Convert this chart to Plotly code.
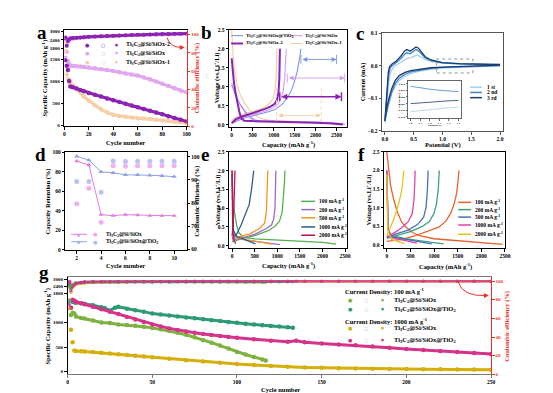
import plotly.graph_objects as go

W, H = 553, 393
FONT = "Liberation Serif"
RED = "#E8322B"

# ---------------- Panel a : cycling of three samples ----------------
A_CYC = [1, 2, 3, 4, 5, 7, 10, 13, 16, 20, 25, 30, 35, 40, 45, 50, 55, 60, 65, 70, 75, 80, 85, 90, 95, 100]
A_CAP_S2 = [2550, 1350, 1250, 1000, 880, 860, 830, 800, 770, 730, 690, 650, 605, 565, 525, 485, 445, 410, 370, 330, 290, 250, 205, 165, 125, 85]
A_CAP_S = [2450, 1700, 1450, 1380, 1350, 1340, 1335, 1330, 1320, 1310, 1290, 1270, 1250, 1230, 1200, 1175, 1150, 1125, 1080, 1040, 990, 940, 890, 840, 790, 740]
A_CAP_S1 = [2350, 1150, 1050, 980, 940, 900, 820, 740, 650, 560, 450, 360, 290, 240, 210, 190, 175, 160, 150, 140, 125, 110, 95, 80, 65, 50]
A_CE_S2 = [72, 88, 93, 95, 96, 96.3, 96.7, 97, 97.3, 97.7, 98, 98.3, 98.6, 98.9, 99.2, 99.4, 99.6, 99.8, 100, 100.2, 100.4, 100.6, 100.8, 101, 101.1, 101.2]
A_CE_S = [75, 88, 92, 94, 95, 95.5, 96, 96.4, 96.8, 97.2, 97.6, 98, 98.3, 98.6, 98.9, 99.2, 99.4, 99.6, 99.8, 100, 100.2, 100.3, 100.4, 100.5, 100.6, 100.7]
A_CE_S1 = [82, 90, 93, 94.5, 95.5, 96, 96.5, 97, 97.3, 97.6, 97.9, 98.2, 98.5, 98.8, 99, 99.2, 99.4, 99.6, 99.8, 100, 100.1, 100.2, 100.3, 100.4, 100.5, 100.6]
A_TICKS = [0, 500, 1000, 1500, 1800, 2400, 3000]
A_LABELS = ["Ti<sub>3</sub>C<sub>2</sub>@Si/SiOx-2", "Ti<sub>3</sub>C<sub>2</sub>@Si/SiOx", "Ti<sub>3</sub>C<sub>2</sub>@Si/SiOx-1"]

# ---------------- Panel b : charge/discharge profiles ----------------
B_T_DIS_Q = [0, 50, 100, 180, 250, 330, 400, 480, 550, 700, 1000, 1500, 2000, 2350, 2500]
B_T_DIS_V = [1.05, 0.9, 0.75, 0.58, 0.45, 0.34, 0.25, 0.18, 0.13, 0.1, 0.09, 0.08, 0.07, 0.05, 0.02]
B_T_CHG_Q = [0, 150, 300, 500, 700, 900, 1050, 1200, 1330, 1420, 1500, 1560, 1610, 1650]
B_T_CHG_V = [0.04, 0.12, 0.18, 0.24, 0.29, 0.35, 0.42, 0.54, 0.72, 0.9, 1.15, 1.4, 1.7, 2.0]
B_S_DIS_Q = [0, 60, 130, 200, 280, 360, 450, 600, 900, 1400, 1900, 2400, 2700]
B_S_DIS_V = [1.1, 0.9, 0.7, 0.52, 0.37, 0.25, 0.16, 0.11, 0.1, 0.09, 0.08, 0.06, 0.02]
B_S_CHG_Q = [0, 200, 400, 650, 850, 1000, 1100, 1180, 1230, 1260, 1280, 1300]
B_S_CHG_V = [0.05, 0.17, 0.24, 0.31, 0.38, 0.46, 0.56, 0.7, 0.9, 1.2, 1.55, 2.0]
B_S2_DIS_Q = [0, 20, 50, 90, 140, 190, 240, 300, 500, 1000, 1500, 2000, 2400, 2650]
B_S2_DIS_V = [1.75, 1.45, 1.15, 0.85, 0.55, 0.3, 0.16, 0.11, 0.1, 0.09, 0.08, 0.06, 0.04, 0.01]
B_S2_CHG_Q = [0, 100, 250, 450, 650, 800, 920, 1020, 1080, 1115, 1135, 1145, 1150]
B_S2_CHG_V = [0.05, 0.15, 0.22, 0.29, 0.36, 0.42, 0.48, 0.55, 0.65, 0.85, 1.2, 1.6, 2.0]
B_S1_DIS_Q = [0, 15, 40, 80, 130, 200, 300, 420, 560, 700, 900, 1300, 1700, 2150]
B_S1_DIS_V = [2.5, 2.1, 1.7, 1.35, 1.05, 0.8, 0.58, 0.4, 0.26, 0.17, 0.12, 0.1, 0.09, 0.07]
B_S1_CHG_Q = [0, 100, 250, 450, 650, 800, 900, 980, 1030, 1055, 1070, 1080]
B_S1_CHG_V = [0.12, 0.2, 0.27, 0.33, 0.4, 0.48, 0.56, 0.68, 0.9, 1.2, 1.6, 2.0]
B_ARROW_Y = [1.72, 1.23, 0.74, 0.25]
B_ARROW_X0 = [1650, 1324, 1146, 1068]
B_ARROW_X1 = [2500, 2694, 2616, 2136]
B_LABELS = ["Ti<sub>3</sub>C<sub>2</sub>@Si/SiOx@TiO<sub>2</sub>", "Ti<sub>3</sub>C<sub>2</sub>@Si/SiOx",
            "Ti<sub>3</sub>C<sub>2</sub>@Si/SiOx-2", "Ti<sub>3</sub>C<sub>2</sub>@Si/SiOx-1"]

# ---------------- Panel c : CV curves ----------------
C_1_V = [2.0, 1.5, 1.0, 0.8, 0.6, 0.45, 0.35, 0.25, 0.18, 0.12, 0.07, 0.03, 0.0, 0.02, 0.04, 0.07, 0.1, 0.15, 0.22, 0.3, 0.38, 0.45, 0.52, 0.56, 0.62, 0.7, 0.8, 1.0, 1.3, 1.6, 2.0]
C_1_I = [0.0, -0.003, -0.007, -0.011, -0.016, -0.024, -0.032, -0.045, -0.062, -0.085, -0.115, -0.145, -0.175, -0.14, -0.1, -0.05, -0.02, -0.003, 0.005, 0.013, 0.022, 0.025, 0.03, 0.033, 0.028, 0.02, 0.014, 0.008, 0.005, 0.003, 0.002]
C_2_V = [2.0, 1.5, 1.0, 0.8, 0.6, 0.45, 0.35, 0.25, 0.18, 0.12, 0.07, 0.03, 0.0, 0.02, 0.04, 0.06, 0.09, 0.12, 0.2, 0.28, 0.34, 0.38, 0.44, 0.5, 0.54, 0.58, 0.64, 0.7, 0.8, 1.0, 1.3, 1.6, 2.0]
C_2_I = [0.001, -0.001, -0.005, -0.008, -0.013, -0.019, -0.026, -0.038, -0.055, -0.08, -0.11, -0.14, -0.17, -0.13, -0.08, -0.035, -0.008, 0.0, 0.01, 0.022, 0.035, 0.04, 0.037, 0.045, 0.05, 0.047, 0.035, 0.025, 0.016, 0.009, 0.006, 0.004, 0.003]
C_3_V = [2.0, 1.5, 1.0, 0.8, 0.6, 0.45, 0.35, 0.25, 0.18, 0.12, 0.07, 0.03, 0.0, 0.02, 0.04, 0.06, 0.08, 0.12, 0.2, 0.28, 0.34, 0.38, 0.44, 0.5, 0.54, 0.58, 0.64, 0.7, 0.8, 1.0, 1.3, 1.6, 2.0]
C_3_I = [0.002, 0.0, -0.004, -0.006, -0.01, -0.015, -0.02, -0.03, -0.045, -0.07, -0.1, -0.13, -0.17, -0.12, -0.06, -0.02, -0.003, 0.005, 0.015, 0.03, 0.045, 0.05, 0.045, 0.053, 0.058, 0.055, 0.04, 0.028, 0.018, 0.01, 0.007, 0.005, 0.004]
C_IN_V = [1.0, 1.1, 1.2, 1.3, 1.4, 1.5]
C_IN_1 = [-0.011, -0.0102, -0.0094, -0.0087, -0.0081, -0.0076]
C_IN_2 = [0.008, 0.0068, 0.0058, 0.005, 0.0044, 0.004]
C_IN_3 = [-0.005, -0.0044, -0.0038, -0.0033, -0.0029, -0.0026]
C_LABELS = ["1 st", "2 nd", "3 rd"]

# ---------------- Panel d : rate retention ----------------
D_CYC = [2, 3, 4, 5, 6, 7, 8, 9, 10]
D_RET_S = [91, 87, 36, 35, 36, 35.5, 35, 35, 35]
D_RET_T = [96, 92, 80, 79, 77, 77, 76.5, 76, 75]
D_CE_S = [79.7, 86.4, 71.7, 96.1, 95.9, 96.1, 96.1, 96.1, 96.1]
D_CE_T = [89.3, 89.3, 84.7, 98.1, 97.9, 98.0, 98.0, 98.0, 98.0]
D_LABELS = ["Ti<sub>3</sub>C<sub>2</sub>@Si/SiOx", "Ti<sub>3</sub>C<sub>2</sub>@Si/SiOx@TiO<sub>2</sub>"]

# ---------------- Panel e : rate profiles Ti3C2@Si/SiOx ----------------
E_100_CHG_Q = [0, 200, 500, 800, 950, 1050, 1110, 1140, 1160, 1170]
E_100_CHG_V = [0.1, 0.18, 0.27, 0.4, 0.52, 0.65, 0.9, 1.3, 1.7, 2.0]
E_100_DIS_Q = [0, 50, 100, 150, 250, 500, 1000, 1500, 2000, 2300]
E_100_DIS_V = [1.3, 0.9, 0.55, 0.35, 0.22, 0.18, 0.15, 0.12, 0.09, 0.04]
E_200_CHG_Q = [0, 200, 500, 750, 870, 920, 950, 960, 970]
E_200_CHG_V = [0.15, 0.2, 0.3, 0.45, 0.55, 0.7, 1.0, 1.5, 2.0]
E_200_DIS_Q = [0, 8, 25, 80, 300, 600, 900, 1060]
E_200_DIS_V = [2.0, 1.0, 0.4, 0.22, 0.15, 0.1, 0.06, 0.03]
E_500_CHG_Q = [0, 200, 400, 600, 720, 760, 780, 790]
E_500_CHG_V = [0.18, 0.25, 0.32, 0.45, 0.6, 0.9, 1.4, 2.0]
E_500_DIS_Q = [0, 10, 30, 100, 300, 600, 870]
E_500_DIS_V = [2.0, 1.0, 0.4, 0.22, 0.16, 0.1, 0.04]
E_1000_CHG_Q = [0, 100, 200, 300, 380, 430, 480]
E_1000_CHG_V = [0.2, 0.3, 0.55, 0.85, 1.1, 1.5, 2.0]
E_1000_DIS_Q = [0, 10, 30, 100, 300, 520]
E_1000_DIS_V = [1.9, 1.0, 0.4, 0.25, 0.15, 0.05]
E_2000_CHG_Q = [0, 20, 40, 55, 65]
E_2000_CHG_V = [0.25, 0.5, 1.0, 1.5, 2.0]
E_2000_DIS_Q = [0, 5, 15, 40, 80]
E_2000_DIS_V = [2.0, 1.0, 0.4, 0.15, 0.05]

# ---------------- Panel f : rate profiles Ti3C2@Si/SiOx@TiO2 ----------------
F_100_CHG_Q = [0, 350, 600, 900, 1100, 1250, 1350, 1420, 1480, 1530]
F_100_CHG_V = [0.1, 0.16, 0.25, 0.38, 0.48, 0.64, 0.85, 1.08, 1.4, 2.0]
F_100_DIS_Q = [0, 40, 80, 150, 220, 320, 426, 550, 700, 1000, 1500, 2000, 2450]
F_100_DIS_V = [2.5, 2.0, 1.6, 1.2, 0.9, 0.6, 0.46, 0.33, 0.25, 0.17, 0.12, 0.08, 0.02]
F_200_CHG_Q = [0, 200, 500, 750, 900, 1000, 1050, 1090, 1110]
F_200_CHG_V = [0.18, 0.26, 0.36, 0.5, 0.63, 0.85, 1.1, 1.5, 2.0]
F_200_DIS_Q = [0, 10, 30, 100, 400, 800, 1200]
F_200_DIS_V = [2.0, 1.0, 0.4, 0.25, 0.17, 0.1, 0.03]
F_500_CHG_Q = [0, 200, 450, 650, 780, 830, 860, 875]
F_500_CHG_V = [0.2, 0.3, 0.4, 0.55, 0.75, 1.0, 1.5, 2.0]
F_500_DIS_Q = [0, 10, 30, 100, 400, 700, 950]
F_500_DIS_V = [2.0, 1.0, 0.4, 0.22, 0.15, 0.09, 0.03]
F_1000_CHG_Q = [0, 150, 300, 450, 540, 575, 590, 600]
F_1000_CHG_V = [0.22, 0.32, 0.45, 0.62, 0.85, 1.2, 1.6, 2.0]
F_1000_DIS_Q = [0, 8, 25, 100, 350, 640]
F_1000_DIS_V = [2.0, 1.0, 0.4, 0.2, 0.13, 0.05]
F_2000_CHG_Q = [0, 50, 150, 250, 320, 360]
F_2000_CHG_V = [0.25, 0.4, 0.7, 1.1, 1.5, 2.0]
F_2000_DIS_Q = [0, 5, 20, 100, 250, 380]
F_2000_DIS_V = [1.9, 1.0, 0.4, 0.15, 0.08, 0.04]
RATE_LABELS = ["100 mA g<sup>-1</sup>", "200 mA g<sup>-1</sup>", "500 mA g<sup>-1</sup>",
               "1000 mA g<sup>-1</sup>", "2000 mA g<sup>-1</sup>"]

# ---------------- Panel g : long cycling ----------------
G1_CYC = [1, 2, 3, 4, 5, 8, 10, 15, 20, 25, 30, 35, 40, 45, 50, 55, 60, 65, 70, 75, 80, 85, 90, 95, 100, 105, 110, 115, 117]
G1_CAP = [2500, 1150, 1200, 1180, 1120, 1090, 1080, 1040, 1000, 990, 960, 950, 935, 915, 890, 860, 830, 790, 750, 700, 640, 590, 530, 470, 400, 350, 300, 250, 230]
G1_CE = [80, 93, 96, 97, 98, 98.5, 98.8, 99, 99, 99.2, 99, 99.1, 99.2, 99, 99.1, 99.3, 99, 99.2, 99.1, 99, 99.2, 99.1, 99, 98.9, 99, 98.8, 98.9, 98.7, 98.8]
G2_CYC = [1, 2, 3, 4, 5, 8, 10, 15, 20, 22, 25, 28, 30, 35, 40, 45, 50, 55, 60, 65, 70, 75, 80, 85, 90, 95, 100, 105, 110, 115, 120, 125, 130, 133]
G2_CAP = [2600, 1300, 1420, 1410, 1400, 1390, 1380, 1350, 1310, 1290, 1240, 1300, 1320, 1280, 1250, 1220, 1180, 1160, 1140, 1120, 1100, 1085, 1065, 1045, 1030, 1010, 995, 975, 960, 945, 930, 920, 905, 895]
G2_CE = [78, 92, 95, 97, 98, 98.6, 98.9, 99.1, 99.2, 99.2, 99.3, 99.1, 99.2, 99.3, 99.2, 99.3, 99.4, 99.3, 99.2, 99.3, 99.4, 99.3, 99.3, 99.4, 99.3, 99.2, 99.3, 99.4, 99.3, 99.3, 99.4, 99.3, 99.2, 99.3]
G3_CYC = [1, 2, 3, 4, 5, 8, 10, 15, 20, 25, 30, 35, 40, 45, 50, 60, 70, 80, 90, 100, 110, 120, 130, 140, 150, 160, 170, 180, 190, 200, 210, 220, 230, 240, 250]
G3_CAP = [2400, 850, 600, 430, 420, 415, 410, 400, 385, 370, 355, 340, 325, 310, 295, 265, 235, 205, 180, 155, 135, 115, 100, 88, 78, 70, 64, 60, 56, 53, 50, 48, 46, 44, 42]
G3_CE = [70, 88, 93, 95, 96.5, 97.5, 98, 98.5, 98.8, 99, 99, 99.1, 99.2, 99.2, 99.3, 99.3, 99.4, 99.4, 99.4, 99.5, 99.5, 99.5, 99.5, 99.6, 99.6, 99.6, 99.6, 99.6, 99.7, 99.7, 99.7, 99.7, 99.7, 99.7, 99.7]
G4_CYC = [1, 2, 3, 4, 5, 8, 10, 15, 20, 25, 30, 35, 40, 45, 50, 55, 60, 65, 70, 75, 80, 85, 90, 95, 100, 110, 120, 130, 135, 140, 150, 160, 170, 180, 190, 200, 210, 220, 230, 240, 250]
G4_CAP = [2750, 1300, 1460, 1440, 1420, 1390, 1370, 1320, 1270, 1220, 1170, 1110, 1060, 1010, 960, 920, 880, 845, 815, 790, 765, 745, 725, 705, 690, 660, 630, 610, 630, 600, 575, 555, 535, 510, 485, 460, 440, 420, 400, 380, 360]
G4_CE = [75, 90, 94, 96, 97.5, 98.5, 99, 99.2, 99.3, 99.4, 99.4, 99.5, 99.5, 99.5, 99.6, 99.6, 99.6, 99.6, 99.7, 99.7, 99.7, 99.7, 99.7, 99.7, 99.8, 99.8, 99.8, 99.8, 99.8, 99.8, 99.8, 99.8, 99.8, 99.8, 99.8, 99.8, 99.8, 99.8, 99.8, 99.8, 99.8]
G_TICKS = [0, 500, 1000, 1800, 2400, 3000]
G_LABELS = ["Ti<sub>3</sub>C<sub>2</sub>@Si/SiOx", "Ti<sub>3</sub>C<sub>2</sub>@Si/SiOx@TiO<sub>2</sub>",
            "Ti<sub>3</sub>C<sub>2</sub>@Si/SiOx", "Ti<sub>3</sub>C<sub>2</sub>@Si/SiOx@TiO<sub>2</sub>"]

# ---------------- colours ----------------
CA = ["#8B23B3", "#E2A5F0", "#F6CFA6"]
CB = ["#7F93EA", "#D79BEE", "#8B23B3", "#F3CFA8"]
CC = ["#A9CDEB", "#3F86C9", "#1B3C6E"]
CD = [("#E07CE0", "#F2A3EC"), ("#8FA0E6", "#AEB9F2")]
CE_ = ["#55B055", "#9A6BCC", "#F5961E", "#2E5E8E", "#B8165E"]
CF = ["#E8602C", "#3AA07E", "#4A6FBD", "#E042A6", "#E5C21C"]
CG = ["#7DB23E", "#2E9A72", "#D6AE08", "#D7328A"]


def brk_a(v):
    if v <= 1500:
        return v
    if v <= 1800:
        return 1500 + (v - 1500) * 245 / 300
    return 1745 + (v - 1800) * 0.317


def brk_g(v):
    if v <= 1500:
        return v
    if v <= 1800:
        return 1500 + (v - 1500) * 86 / 300
    return 1586 + (v - 1800) * 0.245


def dx(a, b):
    return [a / W, b / W]


def dy(top, bot):
    return [1 - bot / H, 1 - top / H]


def px(p):
    return p / W


def py(p):
    return 1 - p / H


traces = []


def add(x, y, xa, ya, mode="lines", color="black", width=1.0, size=4, symbol="circle", opacity=1.0, dash=None):
    traces.append(go.Scatter(x=x, y=y, xaxis=xa, yaxis=ya, mode=mode,
                             line=dict(color=color, width=width, dash=dash),
                             marker=dict(color=color, size=size, symbol=symbol, line=dict(width=0)),
                             opacity=opacity, hoverinfo="skip", showlegend=False))


# ---- a ----
for cap, col in [(A_CAP_S1, CA[2]), (A_CAP_S, CA[1]), (A_CAP_S2, CA[0])]:
    yy = [brk_a(v) for v in cap]
    add(A_CYC[4:], yy[4:], "x", "y", "lines", col, 3.2)
    add(A_CYC, yy, "x", "y", "markers", col, size=4.5)
for ce, col in [(A_CE_S1, CA[2]), (A_CE_S, CA[1]), (A_CE_S2, CA[0])]:
    add(A_CYC[4:], ce[4:], "x", "y2", "lines", col, 3)
    add(A_CYC, ce, "x", "y2", "markers", col, size=4)

# ---- b ----
for q, v, col, w in [(B_S1_DIS_Q, B_S1_DIS_V, CB[3], 1.2), (B_S1_CHG_Q, B_S1_CHG_V, CB[3], 1.2),
                     (B_T_DIS_Q, B_T_DIS_V, CB[0], 1.1), (B_T_CHG_Q, B_T_CHG_V, CB[0], 1.1),
                     (B_S_DIS_Q, B_S_DIS_V, CB[1], 1.1), (B_S_CHG_Q, B_S_CHG_V, CB[1], 1.1),
                     (B_S2_DIS_Q, B_S2_DIS_V, CB[2], 2.0), (B_S2_CHG_Q, B_S2_CHG_V, CB[2], 2.0)]:
    add(q, v, "x2", "y3", "lines", col, w)

# ---- c ----
for v, i, col in [(C_1_V, C_1_I, CC[0]), (C_2_V, C_2_I, CC[1]), (C_3_V, C_3_I, CC[2])]:
    add(v, i, "x3", "y4", "lines", col, 1.3)
for i, col in [(C_IN_1, CC[0]), (C_IN_2, CC[1]), (C_IN_3, CC[2])]:
    add(C_IN_V, i, "x4", "y5", "lines", col, 0.8)

# ---- d ----
for ret, ce, (lc, cc) in [(D_RET_S, D_CE_S, CD[0]), (D_RET_T, D_CE_T, CD[1])]:
    add(D_CYC, ret, "x5", "y6", "lines+markers", lc, 1.0, size=4.5, symbol="triangle-up")
    add(D_CYC, ce, "x5", "y7", "markers", cc, size=5, opacity=0.85)

# ---- e ----
E_SETS = [(E_100_DIS_Q, E_100_DIS_V, E_100_CHG_Q, E_100_CHG_V), (E_200_DIS_Q, E_200_DIS_V, E_200_CHG_Q, E_200_CHG_V),
          (E_500_DIS_Q, E_500_DIS_V, E_500_CHG_Q, E_500_CHG_V), (E_1000_DIS_Q, E_1000_DIS_V, E_1000_CHG_Q, E_1000_CHG_V),
          (E_2000_DIS_Q, E_2000_DIS_V, E_2000_CHG_Q, E_2000_CHG_V)]
for (dq, dv, cq, cv), col in zip(E_SETS, CE_):
    add(dq, dv, "x6", "y8", "lines", col, 1.3)
    add(cq, cv, "x6", "y8", "lines", col, 1.3)

# ---- f ----
F_SETS = [(F_100_DIS_Q, F_100_DIS_V, F_100_CHG_Q, F_100_CHG_V), (F_200_DIS_Q, F_200_DIS_V, F_200_CHG_Q, F_200_CHG_V),
          (F_500_DIS_Q, F_500_DIS_V, F_500_CHG_Q, F_500_CHG_V), (F_1000_DIS_Q, F_1000_DIS_V, F_1000_CHG_Q, F_1000_CHG_V),
          (F_2000_DIS_Q, F_2000_DIS_V, F_2000_CHG_Q, F_2000_CHG_V)]
for (dq, dv, cq, cv), col in zip(F_SETS, CF):
    add(dq, dv, "x7", "y9", "lines", col, 1.3)
    add(cq, cv, "x7", "y9", "lines", col, 1.3)

# ---- g ----
G_SETS = [(G3_CYC, G3_CAP, G3_CE, CG[2]), (G1_CYC, G1_CAP, G1_CE, CG[0]),
          (G2_CYC, G2_CAP, G2_CE, CG[1]), (G4_CYC, G4_CAP, G4_CE, CG[3])]
for cyc, cap, ce, col in G_SETS:
    yy = [brk_g(v) for v in cap]
    add(cyc[3:], yy[3:], "x8", "y10", "lines", col, 3)
    add(cyc, yy, "x8", "y10", "markers", col, size=4.5)
for cyc, cap, ce, col in G_SETS:
    add(cyc[4:], ce[4:], "x8", "y11", "lines", col, 2.5, opacity=0.8)
    add(cyc, ce, "x8", "y11", "markers", col, size=3.5, opacity=0.8)

fig = go.Figure(traces)


def axis(domain, rng, tickvals, anchor, ticktext=None, side=None, overlaying=None, color="black",
         mirror=True, size=5.5, fmt=None, ticklen=2.5, linecolor=None):
    d = dict(range=rng, tickmode="array", tickvals=tickvals, anchor=anchor, showline=True,
             linecolor=linecolor or color, linewidth=1, mirror=mirror, ticks="outside", ticklen=ticklen,
             tickwidth=0.8, tickcolor=linecolor or color, showgrid=False, zeroline=False,
             tickfont=dict(family=FONT, size=size, color=color, weight="bold"))
    if domain is not None:
        d["domain"] = domain
    if ticktext is not None:
        d["ticktext"] = ticktext
    if side:
        d["side"] = side
    if overlaying:
        d["overlaying"] = overlaying
    if fmt:
        d["tickformat"] = fmt
    return d


V_TICKS = [0, 0.5, 1.0, 1.5, 2.0, 2.5]
Q_TICKS = [0, 500, 1000, 1500, 2000, 2500]

layout = dict(
    width=W, height=H, autosize=False, margin=dict(l=0, r=0, t=0, b=0),
    paper_bgcolor="white", plot_bgcolor="white", showlegend=False,
    font=dict(family=FONT, color="black"),
    # a
    xaxis=axis(dx(56, 180), [0, 100], [0, 20, 40, 60, 80, 100], "y"),
    yaxis=axis(dy(19, 117), [-22, 2165], [brk_a(t) for t in A_TICKS], "x",
               ticktext=[str(t) for t in A_TICKS], mirror=False, size=5),
    yaxis2=axis(None, [0, 105.4], [0, 20, 40, 60, 80, 100], "x", side="right", overlaying="y",
                color=RED, mirror=False, size=5),
    # b
    xaxis2=axis(dx(223, 342), [-60, 2740], Q_TICKS, "y3"),
    yaxis3=axis(dy(19, 118), [-0.06, 2.5], V_TICKS, "x2", fmt=".1f"),
    # c
    xaxis3=axis(dx(378, 500), [-0.046, 2.046], [0, 0.5, 1.0, 1.5, 2.0], "y4", fmt=".1f", linecolor="#555"),
    yaxis4=axis(dy(22, 122), [-0.201, 0.102], [-0.2, -0.1, 0.0, 0.1], "x3", fmt=".1f", linecolor="#555"),
    xaxis4=axis(dx(404, 458), [0.97, 1.53], [1.0, 1.1, 1.2, 1.3, 1.4, 1.5], "y5", fmt=".1f", size=2.8,
                ticklen=1.2, linecolor="#666"),
    yaxis5=axis(dy(71, 109), [-0.016, 0.012], [-0.015, -0.01, -0.005, 0.0, 0.005, 0.01], "x4", fmt=".3f",
                size=2.8, ticklen=1.2, linecolor="#666"),
    # d
    xaxis5=axis(dx(57, 180), [1.06, 11.03], [2, 4, 6, 8, 10], "y6"),
    yaxis6=axis(dy(143, 243), [-0.6, 100.6], [0, 20, 40, 60, 80, 100], "x5", mirror=False),
    yaxis7=axis(None, [59.6, 102.1], [60, 70, 80, 90, 100], "x5", side="right", overlaying="y6", mirror=False),
    # e
    xaxis6=axis(dx(223, 342), [-64, 2536], Q_TICKS, "y8"),
    yaxis8=axis(dy(143, 241), [-0.07, 2.5], V_TICKS, "x6", fmt=".1f"),
    # f
    xaxis7=axis(dx(380, 502.3), [-55, 2500], Q_TICKS, "y9"),
    yaxis9=axis(dy(143, 241), [-0.087, 2.5], V_TICKS, "x7", fmt=".1f"),
    # g
    xaxis8=axis(dx(59.3, 488.3), [0, 250], [0, 50, 100, 150, 200, 250], "y10", linecolor="#777"),
    yaxis10=axis(dy(270, 369), [-54, 1926], [brk_g(t) for t in G_TICKS], "x8",
                 ticktext=[str(t) for t in G_TICKS], mirror=False, size=5),
    yaxis11=axis(None, [0, 104.5], [0, 20, 40, 60, 80, 100], "x8", side="right", overlaying="y10",
                 color=RED, mirror=False, size=5),
)

annotations = []
shapes = []


def ann(text, x, y, size=6.5, color="black", angle=0, xanchor="center", yanchor="middle", bold=True, family=FONT):
    annotations.append(dict(text=text, x=px(x), y=py(y), xref="paper", yref="paper", showarrow=False,
                            textangle=angle, xanchor=xanchor, yanchor=yanchor,
                            font=dict(family=family, size=size, color=color, weight="bold" if bold else "normal")))


def hline(x0, x1, y, color, width=1.2, dash=None):
    shapes.append(dict(type="line", xref="paper", yref="paper", x0=px(x0), x1=px(x1), y0=py(y), y1=py(y),
                       line=dict(color=color, width=width, dash=dash)))


# panel letters
for t, x, y in [("a", 33, 22), ("b", 200, 22), ("c", 356, 23), ("d", 32, 146), ("e", 199, 146),
                ("f", 357, 146), ("g", 35, 266)]:
    ann(t, x, y, size=19)

# axis titles
MAH = "(mAh g<sup>-1</sup>)"
VOLT = "Voltage (vs.Li<sup>+</sup>/Li)"
for t, x, y, ang, col in [
    ("Cycle number", 118, 134, 0, "black"),
    ("Specific Capacity " + MAH, 37, 68, -90, "black"),
    ("Coulombic efficiency (%)", 190, 68, -90, RED),
    ("Capacity " + MAH, 283, 136, 0, "black"),
    (VOLT, 211, 68, -90, "black"),
    ("Current (mA)", 358, 72, -90, "black"),
    ("Potential (V)", 440, 136, 0, "black"),
    ("Cycle number", 118, 258, 0, "black"),
    ("Capacity Retention (%)", 40, 193, -90, "black"),
    ("Coulombic efficiency (%)", 190, 193, -90, "black"),
    ("Capacity " + MAH, 283, 258, 0, "black"),
    (VOLT, 211, 192, -90, "black"),
    ("Capacity " + MAH, 442, 259, 0, "black"),
    (VOLT, 364, 192, -90, "black"),
    ("Cycle number", 275, 384, 0, "black"),
    ("Specific Capacity " + MAH, 39, 320, -90, "black"),
    ("Coulombic efficiency (%)", 505, 320, -90, RED),
]:
    ann(t, x, y, size=6.5, color=col, angle=ang)

# legend a
for lab, col, y in zip(A_LABELS, CA, [34.5, 43, 52]):
    ann("●", 80, y, size=5, color=col, bold=False, family="DejaVu Sans")
    ann("○", 96, y, size=5, color=col, bold=False, family="DejaVu Sans")
    ann("●", 109, y, size=3.5, color=col, bold=False, family="DejaVu Sans")
    ann(lab, 116, y, size=6, xanchor="left")

# legend b
for (lab, col, x0, y, w) in [(B_LABELS[0], CB[0], 225, 25, 1.1), (B_LABELS[1], CB[1], 285, 25, 1.1),
                             (B_LABELS[2], CB[2], 225, 33, 2.0), (B_LABELS[3], CB[3], 285, 33, 1.2)]:
    hline(x0, x0 + 12, y, col, w)
    ann(lab, x0 + 13, y, size=5, xanchor="left")

# arrows b
B_ARROW_C = [CB[0], CB[1], CB[2], CB[3]]
B_ARROW_W = [0.9, 0.9, 1.5, 0.9]
for yv, x0, x1, col, w in zip(B_ARROW_Y, B_ARROW_X0, B_ARROW_X1, B_ARROW_C, B_ARROW_W):
    annotations.append(dict(x=x1, y=yv, ax=x0, ay=yv, xref="x2", yref="y3", axref="x2", ayref="y3",
                            text="", showarrow=True, arrowhead=2, arrowside="end+start",
                            arrowsize=0.8 if w > 1 else 1.1, arrowwidth=w, arrowcolor=col))
    for xv in (x0, x1):
        shapes.append(dict(type="line", xref="x2", yref="y3", x0=xv, x1=xv,
                           y0=yv - (0.15 if col == CB[3] else 0.12), y1=yv + (0.75 if col == CB[3] else 0.12),
                           line=dict(color=col, width=w, dash="dot" if col == CB[3] else None)))

# c: dashed zoom box, legend, inset titles
shapes.append(dict(type="rect", xref="x3", yref="y4", x0=0.9, x1=1.53, y0=-0.022, y1=0.021,
                   line=dict(color="#777", width=0.8, dash="dot")))
for lab, col, y in zip(C_LABELS, CC, [77.3, 82.7, 88]):
    hline(467, 479, y, col, 1.5)
    ann(lab, 482, y, size=5.5, xanchor="left")
ann("Current (mA)", 396, 90, size=2.5, angle=-90)
ann("Potential (V)", 431, 116.5, size=2.5)

# legend d
for lab, (lc, cc), y in zip(D_LABELS, CD, [226.7, 234.3]):
    hline(63, 79, y, lc, 1.0)
    ann("▲", 71, y, size=4, color=lc, bold=False, family="DejaVu Sans")
    ann("●", 88, y, size=5, color=cc, bold=False, family="DejaVu Sans")
    ann(lab, 96, y, size=5.5, xanchor="left")

# legend e
for lab, col, y in zip(RATE_LABELS, CE_, [193.3, 201.7, 210, 219.3, 227.7]):
    hline(296, 310, y, col, 1.5)
    ann(lab, 312, y, size=5.5, xanchor="left")

# legend f
for lab, col, y in zip(RATE_LABELS, CF, [194.3, 201.7, 209.3, 217.3, 226.7]):
    hline(455, 468, y, col, 1.5)
    ann(lab, 470, y, size=5.5, xanchor="left")

# legend g
ann("Current Density: 100 mA g<sup>-1</sup>", 338, 284, size=6.5, xanchor="left")
ann("Current Density: 1000 mA g<sup>-1</sup>", 338, 314.3, size=6.5, xanchor="left")
for lab, col, y in zip(G_LABELS, [CG[0], CG[1], CG[2], CG[3]], [293.3, 302.7, 322.3, 334.3]):
    ann("●", 346, y, size=5, color=col, bold=False, family="DejaVu Sans")
    ann("○", 362, y, size=5, color="#BBBBBB", bold=False, family="DejaVu Sans")
    ann("●", 378, y, size=3.5, color=col, bold=False, family="DejaVu Sans")
    ann(lab, 388, y, size=6.5, xanchor="left")

# red curved arrows (a and g)
for (x0, y0, cx, cy, x1, y1) in [(160, 27, 163, 37, 175, 37), (455, 275, 459, 290, 483, 289)]:
    shapes.append(dict(type="path", xref="paper", yref="paper",
                       path=f"M {px(x0)},{py(y0)} Q {px(cx)},{py(cy)} {px(x1)},{py(y1)}",
                       line=dict(color=RED, width=1)))
    annotations.append(dict(x=px(x1 + 3), y=py(y1), xref="paper", yref="paper", ax=-5, ay=0, text="",
                            showarrow=True, arrowhead=2, arrowsize=1, arrowwidth=1, arrowcolor=RED))

layout["annotations"] = annotations
layout["shapes"] = shapes
fig.update_layout(**layout)
fig.write_html("out.html")
